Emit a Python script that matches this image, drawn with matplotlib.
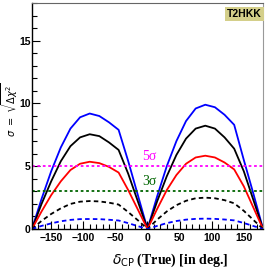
import matplotlib
matplotlib.use('Agg')
import matplotlib.pyplot as plt
from matplotlib.ticker import MultipleLocator, FuncFormatter

# delta_CP grid (deg)
dcp = [-180, -165, -150, -135, -120, -105, -90, -75, -60, -45, -30, -15, 0,
       15, 30, 45, 60, 75, 90, 105, 120, 135, 150, 165, 180]

blue_solid = [0, 2.4, 4.6, 6.5, 8.0, 8.9, 9.2, 9.0, 8.5, 7.9, 5.4, 2.7, 0,
              2.6, 5.0, 7.0, 8.6, 9.6, 9.9, 9.7, 9.1, 8.3, 5.5, 2.8, 0]
black_solid = [0, 2.0, 3.8, 5.4, 6.6, 7.3, 7.55, 7.4, 6.9, 6.3, 4.4, 2.2, 0,
               2.2, 4.2, 5.9, 7.2, 8.0, 8.23, 8.0, 7.3, 6.4, 4.6, 2.3, 0]
red_solid = [0, 1.4, 2.7, 3.8, 4.7, 5.2, 5.36, 5.25, 4.95, 4.5, 3.1, 1.55, 0,
             1.6, 3.1, 4.3, 5.2, 5.7, 5.84, 5.7, 5.3, 4.75, 3.4, 1.7, 0]
black_dash = [0, 0.65, 1.2, 1.65, 2.0, 2.18, 2.23, 2.2, 2.1, 1.95, 1.35, 0.7, 0,
              0.75, 1.4, 1.9, 2.25, 2.45, 2.5, 2.45, 2.3, 2.05, 1.45, 0.72, 0]
blue_dash = [0, 0.25, 0.45, 0.62, 0.73, 0.79, 0.8, 0.79, 0.74, 0.68, 0.47, 0.23, 0,
             0.25, 0.47, 0.64, 0.75, 0.81, 0.83, 0.81, 0.76, 0.69, 0.48, 0.24, 0]

sig_levels = [5, 3]
sig_labels = ['5\u03c3', '3\u03c3']
sig_colors = ['#ff00ff', '#006400']

fig = plt.figure(figsize=(2.66, 2.73), dpi=100)
ax = fig.add_axes([0.12, 0.161, 0.869, 0.828])

ax.plot(dcp, blue_solid, color='#0000ff', lw=1.3)
ax.plot(dcp, black_solid, color='black', lw=1.3)
ax.plot(dcp, red_solid, color='#ff0000', lw=1.3)
ax.plot(dcp, black_dash, color='black', lw=1.3, ls=(0, (2.5, 1.8)))
ax.plot(dcp, blue_dash, color='#0000ff', lw=1.3, ls=(0, (2.5, 1.8)))

for lev, lab, col in zip(sig_levels, sig_labels, sig_colors):
    ax.axhline(lev, color=col, lw=1.3, ls=(0, (1.5, 1.5)))
    ax.text(-8, lev + 0.25, lab, color=col, fontsize=10,
            family='Liberation Serif', ha='left', va='bottom')

ax.set_xlim(-180, 180)
ax.set_ylim(0, 18)
ax.xaxis.set_major_locator(MultipleLocator(50))
ax.xaxis.set_minor_locator(MultipleLocator(10))
ax.yaxis.set_major_locator(MultipleLocator(5))
ax.yaxis.set_minor_locator(MultipleLocator(1))
ax.xaxis.set_major_formatter(FuncFormatter(lambda v, p: '%d' % v if v >= 0 else '\u2212%d' % -v))
ax.tick_params(which='major', direction='in', length=6, width=0.8, pad=3,
               top=False, right=False)
ax.tick_params(which='minor', direction='in', length=3.5, width=0.8,
               top=False, right=False)
ax.tick_params(axis='y', which='major', pad=1)
for lbl in ax.get_xticklabels() + ax.get_yticklabels():
    lbl.set_fontweight('bold')
    lbl.set_fontsize(7.5)
    lbl.set_family('Liberation Sans')

ax.spines['top'].set_color('#666666')
ax.spines['right'].set_color('#999999')
for s in ['left', 'bottom']:
    ax.spines[s].set_linewidth(1.0)

ax.set_xlabel(r'$\delta_{\rm CP}$ (True) [in deg.]', family='Liberation Serif',
              fontsize=10, fontweight='bold')
ax.xaxis.set_label_coords(0.6, -0.1)
ax.set_ylabel(r'$\sigma\ =\ \sqrt{\Delta\chi^2}$', fontsize=7)
ax.yaxis.set_label_coords(-0.05, 0.53)

ax.text(0.995, 0.975, 'T2HKK', transform=ax.transAxes, ha='right', va='top',
        fontsize=7.5, fontweight='bold', family='Liberation Sans',
        bbox=dict(boxstyle='square,pad=0.2', fc='#d4cf8a', ec='none'))

plt.savefig('out.png', dpi=100)
